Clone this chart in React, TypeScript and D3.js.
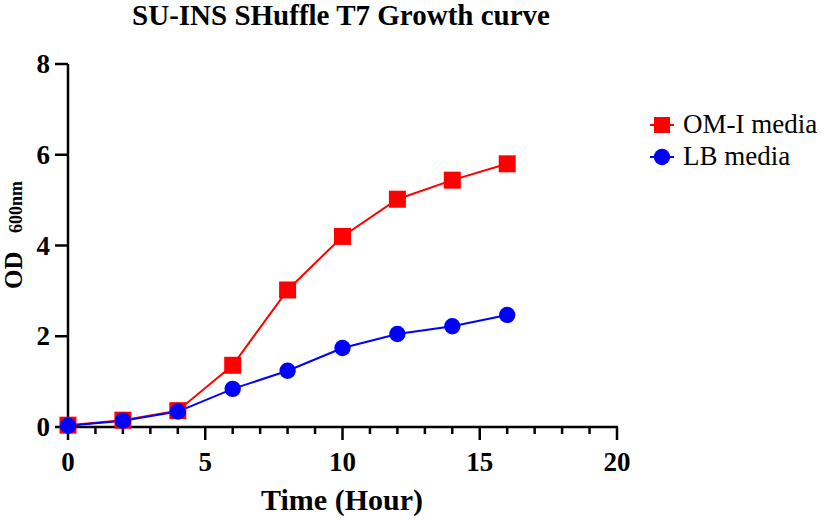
import React from "react";
import * as d3 from "d3";

const hours = [0, 2, 4, 6, 8, 10, 12, 14, 16];
const omValues = [0.04, 0.15, 0.36, 1.36, 3.02, 4.2, 5.02, 5.44, 5.8];
const lbValues = [0.03, 0.14, 0.34, 0.84, 1.24, 1.74, 2.05, 2.22, 2.47];
const xTicks = [0, 5, 10, 15, 20];
const xMinorTicks = d3.range(0, 21, 1);
const yTicks = [0, 2, 4, 6, 8];
const seriesNames = ["OM-I media", "LB media"];

export default function App() {
  const W = 825, H = 520;
  const x = d3.scaleLinear().domain([0, 20]).range([68, 617]);
  const y = d3.scaleLinear().domain([0, 8]).range([427, 64]);
  const line = d3.line<number>().x((_, i) => x(hours[i])).y((d) => y(d));
  const font = "'Liberation Serif', 'Times New Roman', serif";
  const red = "#ff0000";
  const blue = "#0000ff";
  return (
    <svg width={W} height={H} style={{ position: "absolute", left: 0, top: 0 }} fontFamily={font}>
      <rect width={W} height={H} fill="#fff" />
      <text x={341} y={25} textAnchor="middle" fontSize={29} fontWeight="bold">SU-INS SHuffle T7 Growth curve</text>
      {/* axes */}
      <line x1={x(0)} x2={x(0)} y1={y(8)} y2={y(0)} stroke="#000" strokeWidth={2.5} />
      <line x1={x(0) - 1} x2={x(20) + 1} y1={y(0)} y2={y(0)} stroke="#000" strokeWidth={2.5} />
      {yTicks.map((t) => (
        <g key={"y" + t}>
          <line x1={x(0) - 13} x2={x(0)} y1={y(t)} y2={y(t)} stroke="#000" strokeWidth={2.5} />
          <text x={x(0) - 18} y={y(t) + 9} textAnchor="end" fontSize={27} fontWeight="bold">{t}</text>
        </g>
      ))}
      {xMinorTicks.map((t) => (
        <line key={"xm" + t} x1={x(t)} x2={x(t)} y1={y(0)} y2={y(0) + (t % 5 === 0 ? 13 : 7)} stroke="#000" strokeWidth={2.5} />
      ))}
      {xTicks.map((t) => (
        <text key={"xt" + t} x={x(t)} y={y(0) + 44} textAnchor="middle" fontSize={27} fontWeight="bold">{t}</text>
      ))}
      <text x={342} y={510} textAnchor="middle" fontSize={30} fontWeight="bold">Time (Hour)</text>
      <text transform={`translate(22, 289) rotate(-90)`} textAnchor="start" fontSize={25} fontWeight="bold">OD</text>
      <text transform={`translate(22, 233) rotate(-90)`} textAnchor="start" fontSize={18} fontWeight="bold">600nm</text>
      {/* series */}
      <path d={line(omValues) || ""} fill="none" stroke={red} strokeWidth={2} />
      <path d={line(lbValues) || ""} fill="none" stroke={blue} strokeWidth={2} />
      {omValues.map((v, i) => (
        <rect key={"om" + i} x={x(hours[i]) - 8.5} y={y(v) - 8.5} width={17} height={17} fill={red} />
      ))}
      {lbValues.map((v, i) => (
        <circle key={"lb" + i} cx={x(hours[i])} cy={y(v)} r={8.2} fill={blue} />
      ))}
      {/* legend */}
      <line x1={650} x2={674} y1={125} y2={125} stroke={red} strokeWidth={2} />
      <rect x={654} y={117} width={16} height={16} fill={red} />
      <text x={683} y={133} fontSize={27}>{seriesNames[0]}</text>
      <line x1={650} x2={674} y1={157} y2={157} stroke={blue} strokeWidth={2} />
      <circle cx={662} cy={157} r={8.2} fill={blue} />
      <text x={683} y={165} fontSize={27}>{seriesNames[1]}</text>
    </svg>
  );
}
